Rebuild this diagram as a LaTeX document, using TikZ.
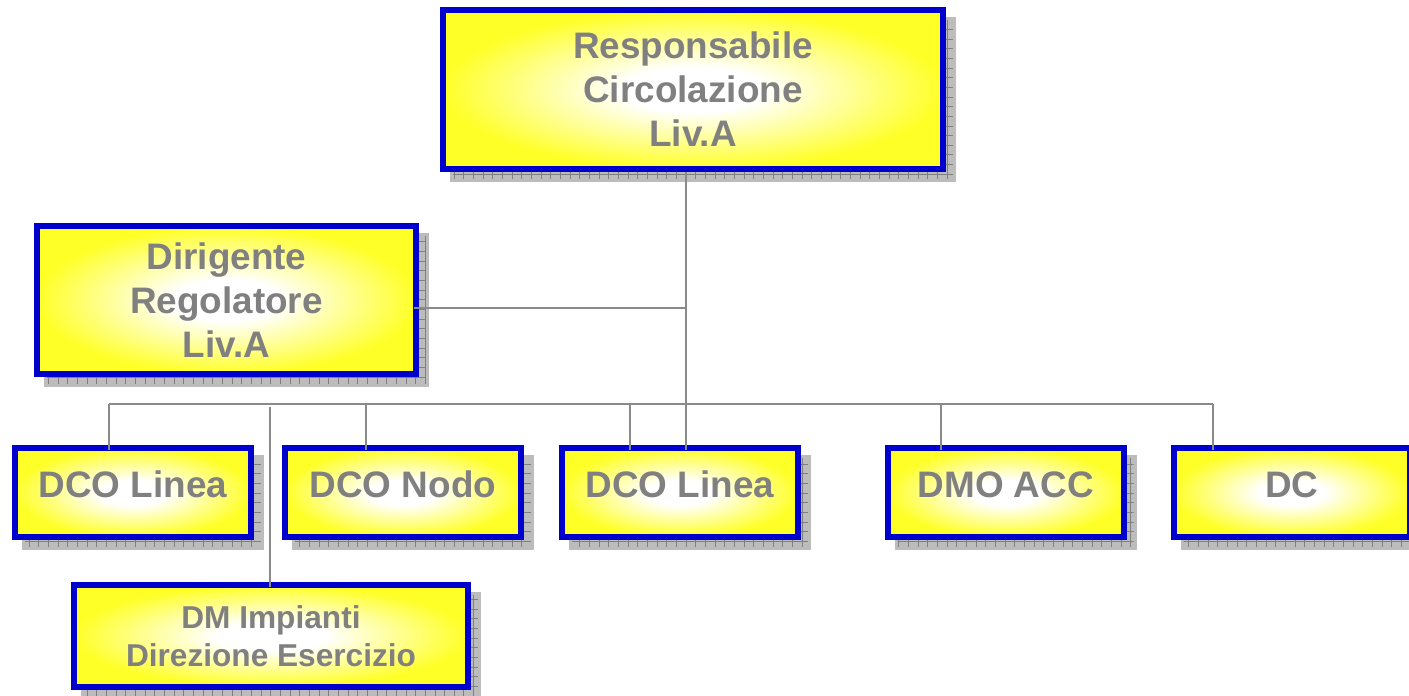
\documentclass[tikz,border=0pt]{standalone}
\usepackage{fontspec}
\setmainfont{Liberation Sans}
\usetikzlibrary{positioning,shadows,patterns}

\definecolor{boxblue}{RGB}{0,0,204}
\definecolor{boxyellow}{RGB}{255,255,40}
\definecolor{textgray}{RGB}{128,128,128}
\definecolor{linegray}{RGB}{138,138,138}
\definecolor{shadowgray}{RGB}{188,188,188}

% white glow in the middle of the yellow boxes
\pgfdeclareradialshading{boxglow}{\pgfpoint{0bp}{0bp}}{color(0bp)=(white); color(7bp)=(white); color(25bp)=(boxyellow); color(50bp)=(boxyellow)}
% fine grid for the shadows
\pgfdeclarepatternformonly{shadowgrid}{\pgfqpoint{-0.5pt}{-0.5pt}}{\pgfqpoint{5.5pt}{5.5pt}}{\pgfqpoint{5.5pt}{5.5pt}}{%
  \pgfsetlinewidth{0.4pt}
  \pgfpathmoveto{\pgfqpoint{0pt}{0pt}}\pgfpathlineto{\pgfqpoint{5.5pt}{0pt}}
  \pgfpathmoveto{\pgfqpoint{0pt}{0pt}}\pgfpathlineto{\pgfqpoint{0pt}{5.5pt}}
  \pgfusepath{stroke}}

\begin{document}
\begin{tikzpicture}[
  x=0.02cm, y=-0.02cm, % one unit is one pixel of the sketch
  thick,
  node distance=0.56cm, % space between the boxes of the bottom row
  box/.style={rectangle,draw=boxblue,line width=3.4pt,shade,shading=boxglow,text=textgray,align=center,
    font=\bfseries\fontsize{21}{25}\selectfont,
    general shadow={shadow xshift=0.2cm,shadow yshift=-0.2cm,fill=shadowgray,draw=shadowgray,line width=3.4pt},
    general shadow={shadow xshift=0.2cm,shadow yshift=-0.2cm,pattern=shadowgrid,pattern color=gray}}, % style of all boxes
  small box/.style={box,minimum width=4.72cm,minimum height=1.78cm,text height=0.53cm,text depth=0.35cm}, % style of the bottom row
  link/.style={draw=linegray,line width=1.1pt} % style of the connectors
  ]
  \useasboundingbox (0,0) rectangle (1409,696);

  \node[box,minimum width=10cm,minimum height=3.18cm] (resp) at (693,89.5) {Responsabile\\Circolazione\\Liv.A};
  \node[box,minimum width=7.58cm,minimum height=2.96cm] (dir) at (226.5,300) {Dirigente\\Regolatore\\Liv.A};

  \node[small box] (linea1) at (133,492.5) {DCO Linea};
  \node[small box] (nodo) [right=of linea1] {DCO Nodo};
  \node[small box] (linea2) [right=0.7cm of nodo] {DCO Linea};
  \node[small box] (dmo) [right=1.68cm of linea2] {DMO ACC};
  \node[small box] (dc) [right=0.88cm of dmo] {DC};

  \node[box,minimum width=7.88cm,minimum height=2.04cm,font=\bfseries\fontsize{18}{21.5}\selectfont] (dm) at (271,636) {DM Impianti\\Direzione Esercizio};

  \coordinate (spine) at (686,404);
  \coordinate (busL) at (109,404);
  \coordinate (busR) at (1213,404);
  \coordinate (dmtop) at (270,407);

  \draw[link,shorten >=-3pt] (resp.south -| spine) -- (linea2.north -| spine);
  \draw[link,shorten <=-3pt] ([yshift=-0.16cm]dir.east) -- ([yshift=-0.16cm]dir.east -| spine);
  \draw[link] (busL) -- (busR);
  \foreach \x/\n in {109/linea1,366/nodo,630/linea2,941/dmo,1213/dc}
    \draw[link,shorten >=-3pt] (\x,404) -- (\x,404 |- \n.north);
  \draw[link,shorten >=-3pt] (dmtop) -- (dmtop |- dm.north);
\end{tikzpicture}
\end{document}
